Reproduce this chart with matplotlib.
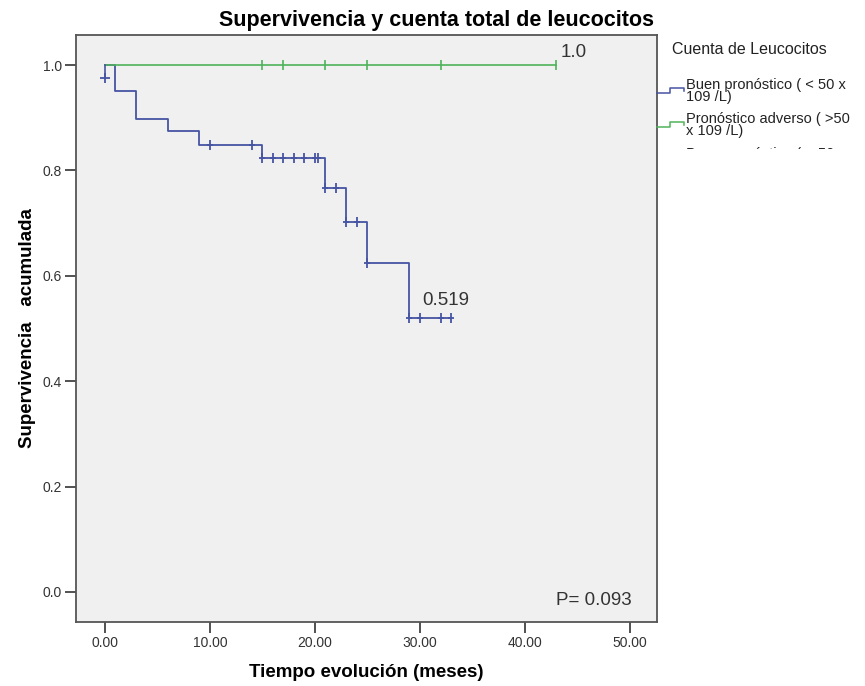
import matplotlib.pyplot as plt
from matplotlib.lines import Line2D
from matplotlib.transforms import Bbox
import numpy as np

plt.rcParams['font.family'] = ['Liberation Sans', 'DejaVu Sans']

# Curva Kaplan-Meier: grupo buen pronóstico (azul)
azul_tiempos = [0, 1, 3, 6, 9, 15, 21, 23, 25, 29, 33]
azul_superv = [1.0, 0.95, 0.898, 0.875, 0.848, 0.823, 0.766, 0.703, 0.624, 0.519, 0.519]
azul_censura = [10, 14, 15, 16, 17, 18, 19, 20, 20.3, 21, 22, 23, 24, 25, 29, 30, 32, 33]

# Grupo pronóstico adverso (verde)
verde_tiempos = [0, 43]
verde_superv = [1.0, 1.0]
verde_censura = [15, 17, 21, 25, 32, 43]

# Tercer grupo (un solo caso en t=0)
tercer_tiempos = [0, 0]
tercer_superv = [1.0, 0.976]
tercer_censura = [0]

x_ticks = [0, 10, 20, 30, 40, 50]
y_ticks = [0.0, 0.2, 0.4, 0.6, 0.8, 1.0]

AZUL = '#4654a3'
VERDE = '#4fb35a'
MARCO = '#555555'
TEXTO = '#333333'


def nivel(tiempos, superv, t):
    """Valor de la curva escalonada en el tiempo t"""
    i = np.searchsorted(tiempos, t, side='right') - 1
    return superv[max(i, 0)]


fig = plt.figure(figsize=(8.65, 6.86), dpi=100)
ax = fig.add_axes([0.0879, 0.0933, 0.6717, 0.8557])
ax.set_facecolor('#f0f0f0')

ax.step(azul_tiempos, azul_superv, where='post', color=AZUL, lw=1.3)
y_cens = [nivel(azul_tiempos, azul_superv, t) for t in azul_censura]
ax.plot(azul_censura, y_cens, ls='none', marker='|', ms=7, mew=1.3, color=AZUL)
ax.plot(azul_censura, y_cens, ls='none', marker='_', ms=5, mew=1.3, color=AZUL)

ax.step(verde_tiempos, verde_superv, where='post', color=VERDE, lw=1.2)
ax.plot(verde_censura, [nivel(verde_tiempos, verde_superv, t) for t in verde_censura],
        ls='none', marker='|', ms=7, mew=1.2, color=VERDE)

ax.plot(tercer_tiempos, tercer_superv, color=AZUL, lw=1.2)
ax.plot(tercer_censura, [tercer_superv[-1]], ls='none', marker='+', ms=7, mew=1.3, color=AZUL)

ax.text(43.4, 1.023, '1.0', fontsize=13.5, color=TEXTO, va='center')
ax.text(30.2, 0.554, '0.519', fontsize=13.5, color=TEXTO, va='center')
ax.text(43, -0.017, 'P= 0.093', fontsize=13.5, color=TEXTO, va='center')

ax.set_xlim(-2.76, 52.6)
ax.set_ylim(-0.057, 1.057)
ax.set_xticks(x_ticks)
ax.set_xticklabels([f'{v:.2f}' for v in x_ticks])
ax.set_yticks(y_ticks)
ax.set_yticklabels([f'{v:.1f}' for v in y_ticks])
ax.tick_params(direction='out', length=8, width=1.2, color=TEXTO,
               labelcolor=TEXTO, labelsize=10, pad=2)
for s in ax.spines.values():
    s.set_color(MARCO)
    s.set_linewidth(1.3)

ax.set_xlabel('Tiempo evolución (meses)', fontsize=13.5, fontweight='bold', labelpad=10)
ax.set_ylabel('Supervivencia   acumulada', fontsize=13.5, fontweight='bold', labelpad=5)
fig.suptitle('Supervivencia y cuenta total de leucocitos', x=0.505, y=0.985,
             fontsize=15.5, fontweight='bold')

# Leyenda dibujada a mano (estilo SPSS)
W, H = 865, 686
fig.text(672 / W, 1 - 50 / H, 'Cuenta de Leucocitos', fontsize=11.5, color='#222222', va='center')


def icono(y0, color):
    xs = np.array([657, 670, 670, 684, 684]) / W
    ys = 1 - np.array([y0 + 5, y0 + 5, y0, y0, y0 + 3]) / H
    fig.add_artist(Line2D(xs, ys, color=color, lw=1.1))


icono(88, AZUL)
fig.text(686 / W, 1 - 91 / H, 'Buen pronóstico ( < 50 x\n109 /L)', fontsize=10.5,
         color='#222222', va='center', linespacing=0.9)
icono(122, VERDE)
fig.text(686 / W, 1 - 125 / H, 'Pronóstico adverso ( >50\nx 109 /L)', fontsize=10.5,
         color='#222222', va='center', linespacing=0.9)

t3 = fig.text(686 / W, 1 - 154 / H, 'Buen pronóstico ( < 50', fontsize=10.5,
              color='#222222', va='center')
t3.set_clip_box(Bbox.from_extents(0, H - 149, W, H))
t3.set_clip_on(True)

fig.savefig('out.png', dpi=100)
